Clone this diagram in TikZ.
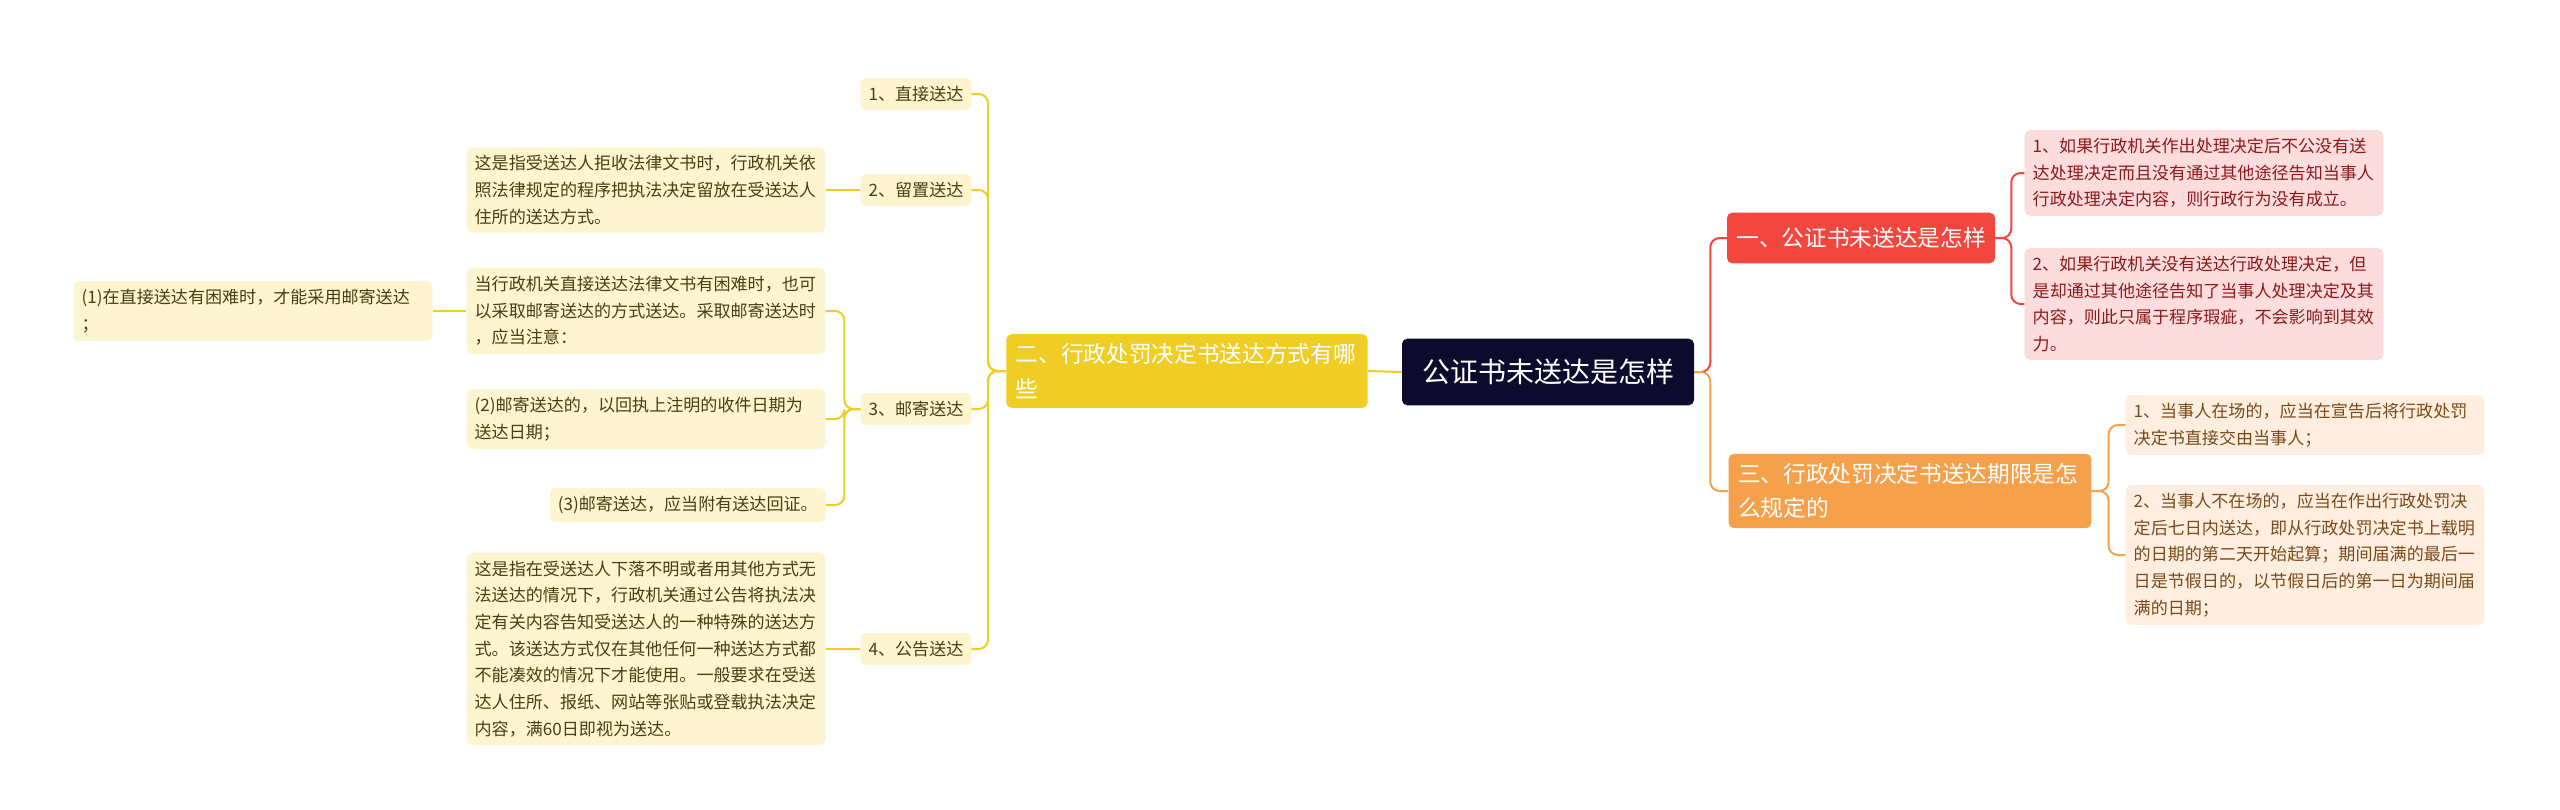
\documentclass[tikz,border=0pt]{standalone}
\usepackage{fontspec}
\setmainfont{Noto Sans CJK SC}
\begin{document}
\begin{tikzpicture}[x=0.75pt,y=-0.75pt,
  box/.style={rectangle,rounded corners=4pt,inner sep=6pt,align=left,font=\fontsize{12.8}{20}\selectfont},
  sm/.style={box,text width=257pt},
  ylw/.style={fill=yelF,text=yelT},
  pk/.style={fill=pinkF,text=pinkT},
  pc/.style={fill=peachF,text=peachT},
  mid/.style={rectangle,rounded corners=4pt,inner sep=7pt,align=left,font=\fontsize{17}{26}\selectfont},
  ye/.style={draw=yelL,line width=1.5pt,rounded corners=7pt},
  re/.style={draw=redL,line width=1.5pt,rounded corners=7pt},
  oe/.style={draw=oraL,line width=1.5pt,rounded corners=7pt}]
\definecolor{yelF}{HTML}{FDF5D0}\definecolor{yelT}{HTML}{4A3F10}\definecolor{yelL}{HTML}{F0CD25}
\definecolor{pinkF}{HTML}{FDDCDD}\definecolor{pinkT}{HTML}{8C1A1A}\definecolor{redL}{HTML}{F2463E}
\definecolor{peachF}{HTML}{FDEEDF}\definecolor{peachT}{HTML}{7A4A1A}\definecolor{oraL}{HTML}{F5A04A}
\definecolor{rootF}{HTML}{0D0B2D}
\useasboundingbox (0,0) rectangle (2560,810);
\fill[white] (0,0) rectangle (2560,810);
% root and main branches
\node[mid,fill=rootF,text=white,font=\fontsize{21}{28}\selectfont,minimum width=219pt,minimum height=50pt,align=center] (root) at (1548,372) {公证书未送达是怎样};
\node[mid,fill=redL,text=white,minimum width=197pt,minimum height=38pt] (red) at (1861,238) {一、公证书未送达是怎样};
\node[mid,fill=oraL,text=white,text width=258pt] (ora) at (1910,491) {三、行政处罚决定书送达期限是怎\\么规定的};
\node[mid,fill=yelL,text=white,text width=257pt] (yel) at (1187,371) {二、行政处罚决定书送达方式有哪\\些};
% right leaves
\node[sm,pk] (p1) at (2204,173) {1、如果行政机关作出处理决定后不公没有送\\达处理决定而且没有通过其他途径告知当事人\\行政处理决定内容，则行政行为没有成立。};
\node[sm,pk] (p2) at (2204,304) {2、如果行政机关没有送达行政处理决定，但\\是却通过其他途径告知了当事人处理决定及其\\内容，则此只属于程序瑕疵，不会影响到其效\\力。};
\node[sm,pc] (c1) at (2305,425) {1、当事人在场的，应当在宣告后将行政处罚\\决定书直接交由当事人；};
\node[sm,pc] (c2) at (2305,555) {2、当事人不在场的，应当在作出行政处罚决\\定后七日内送达，即从行政处罚决定书上载明\\的日期的第二天开始起算；期间届满的最后一\\日是节假日的，以节假日后的第一日为期间届\\满的日期；};
% left chips
\node[box,ylw] (k1) at (916,94) {1、直接送达};
\node[box,ylw] (k2) at (916,190) {2、留置送达};
\node[box,ylw] (k3) at (916,409) {3、邮寄送达};
\node[box,ylw] (k4) at (916,649) {4、公告送达};
% left leaves
\node[sm,ylw] (t2) at (646,190) {这是指受送达人拒收法律文书时，行政机关依\\照法律规定的程序把执法决定留放在受送达人\\住所的送达方式。};
\node[sm,ylw] (m0) at (646,311) {当行政机关直接送达法律文书有困难时，也可\\以采取邮寄送达的方式送达。采取邮寄送达时\\，应当注意：};
\node[sm,ylw] (m2) at (646,419) {(2)邮寄送达的，以回执上注明的收件日期为\\送达日期；};
\node[box,ylw,anchor=east] (m3) at (826,505) {(3)邮寄送达，应当附有送达回证。};
\node[sm,ylw] (m1) at (253,311) {(1)在直接送达有困难时，才能采用邮寄送达\\；};
\node[sm,ylw] (t4) at (646,649) {这是指在受送达人下落不明或者用其他方式无\\法送达的情况下，行政机关通过公告将执法决\\定有关内容告知受送达人的一种特殊的送达方\\式。该送达方式仅在其他任何一种送达方式都\\不能凑效的情况下才能使用。一般要求在受送\\达人住所、报纸、网站等张贴或登载执法决定\\内容，满60日即视为送达。};
% connectors
\draw[re] (root.east) -- ++(16,0) |- (red.west);
\draw[oe] (root.east) -- ++(16,0) |- (ora.west);
\draw[ye] (root.west) -- (yel.east);
\draw[re] (red.east) -- ++(16,0) |- (p1.west);
\draw[re] (red.east) -- ++(16,0) |- (p2.west);
\draw[oe] (ora.east) -- ++(17,0) |- (c1.west);
\draw[oe] (ora.east) -- ++(17,0) |- (c2.west);
\foreach \k in {k1,k2,k3,k4} \draw[ye] (yel.west) -- ++(-18,0) |- (\k.east);
\draw[ye] (k2.west) -- (t2.east);
\draw[ye] (k4.west) -- (t4.east);
\foreach \m in {m0,m2,m3} \draw[ye] (k3.west) -- ++(-16,0) |- (\m.east);
\draw[ye] (m0.west) -- (m1.east);
\end{tikzpicture}
\end{document}
